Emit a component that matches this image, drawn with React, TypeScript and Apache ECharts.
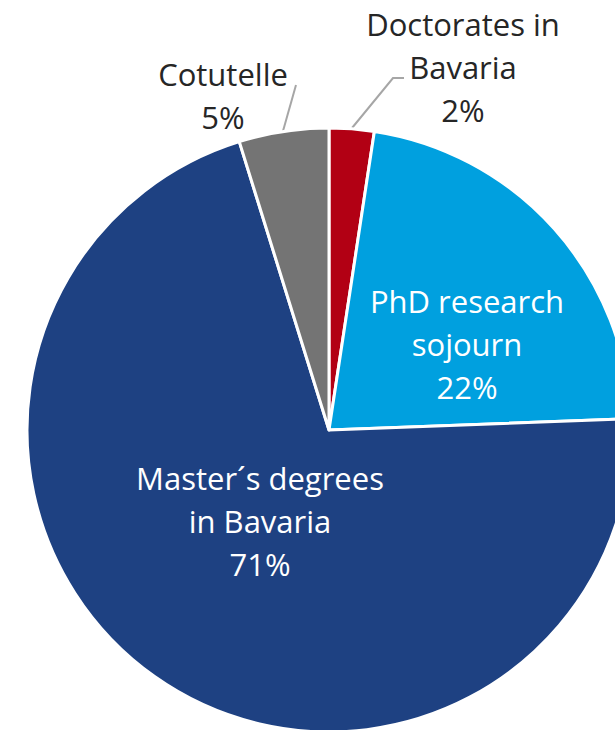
import React, { useEffect, useRef } from "react";
import * as echarts from "echarts";

const categories = [
  "Doctorates in\nBavaria",
  "PhD research\nsojourn",
  "Master´s degrees\nin Bavaria",
  "Cotutelle",
];
const shares = [2.4, 22.0, 70.8, 4.8];
const sliceColors = ["#B20014", "#00A0DF", "#1E4182", "#747474"];
const insideLabel = [false, true, true, false];

// label placement (px, relative to the chart container)
const labelPos = [
  { x: 463, y: 67 },
  { x: 467, y: 344 },
  { x: 260, y: 521 },
  { x: 223, y: 95 },
];
const leaderPoints: (number[][] | null)[] = [
  [
    [352, 128],
    [393, 78],
    [404, 78],
  ],
  null,
  null,
  [
    [283, 131],
    [296, 85],
  ],
];

export default function App() {
  const ref = useRef<HTMLDivElement>(null);
  useEffect(() => {
    if (!ref.current) return;
    const chart = echarts.init(ref.current, undefined, { renderer: "svg" });
    const font = "'Open Sans', 'Noto Sans', sans-serif";
    chart.setOption({
      animation: false,
      backgroundColor: "#ffffff",
      series: [
        {
          type: "pie",
          center: [329, 430],
          radius: [0, 302],
          startAngle: 90,
          clockwise: true,
          avoidLabelOverlap: false,
          itemStyle: { borderColor: "#ffffff", borderWidth: 3 },
          labelLine: {
            show: true,
            lineStyle: { color: "#A6A6A6", width: 2 },
          },
          label: {
            fontFamily: font,
            fontSize: 31,
            lineHeight: 43,
            align: "center",
            formatter: (p: any) => `${p.name}\n${Math.round(p.percent)}%`,
          },
          labelLayout: (params: any) => {
            const i = params.dataIndex;
            const pos = labelPos[i];
            const out: any = {
              x: pos.x,
              y: pos.y,
              align: "center",
              verticalAlign: "middle",
            };
            if (leaderPoints[i]) out.labelLinePoints = leaderPoints[i];
            return out;
          },
          data: categories.map((name, i) => ({
            name,
            value: shares[i],
            itemStyle: { color: sliceColors[i] },
            label: insideLabel[i]
              ? { position: "inside", color: "#ffffff" }
              : { position: "outside", color: "#262626" },
            labelLine: { show: !insideLabel[i] },
          })),
        },
      ],
    });
    return () => chart.dispose();
  }, []);
  return (
    <div
      ref={ref}
      style={{ position: "fixed", left: 0, top: 0, width: 615, height: 730 }}
    />
  );
}
